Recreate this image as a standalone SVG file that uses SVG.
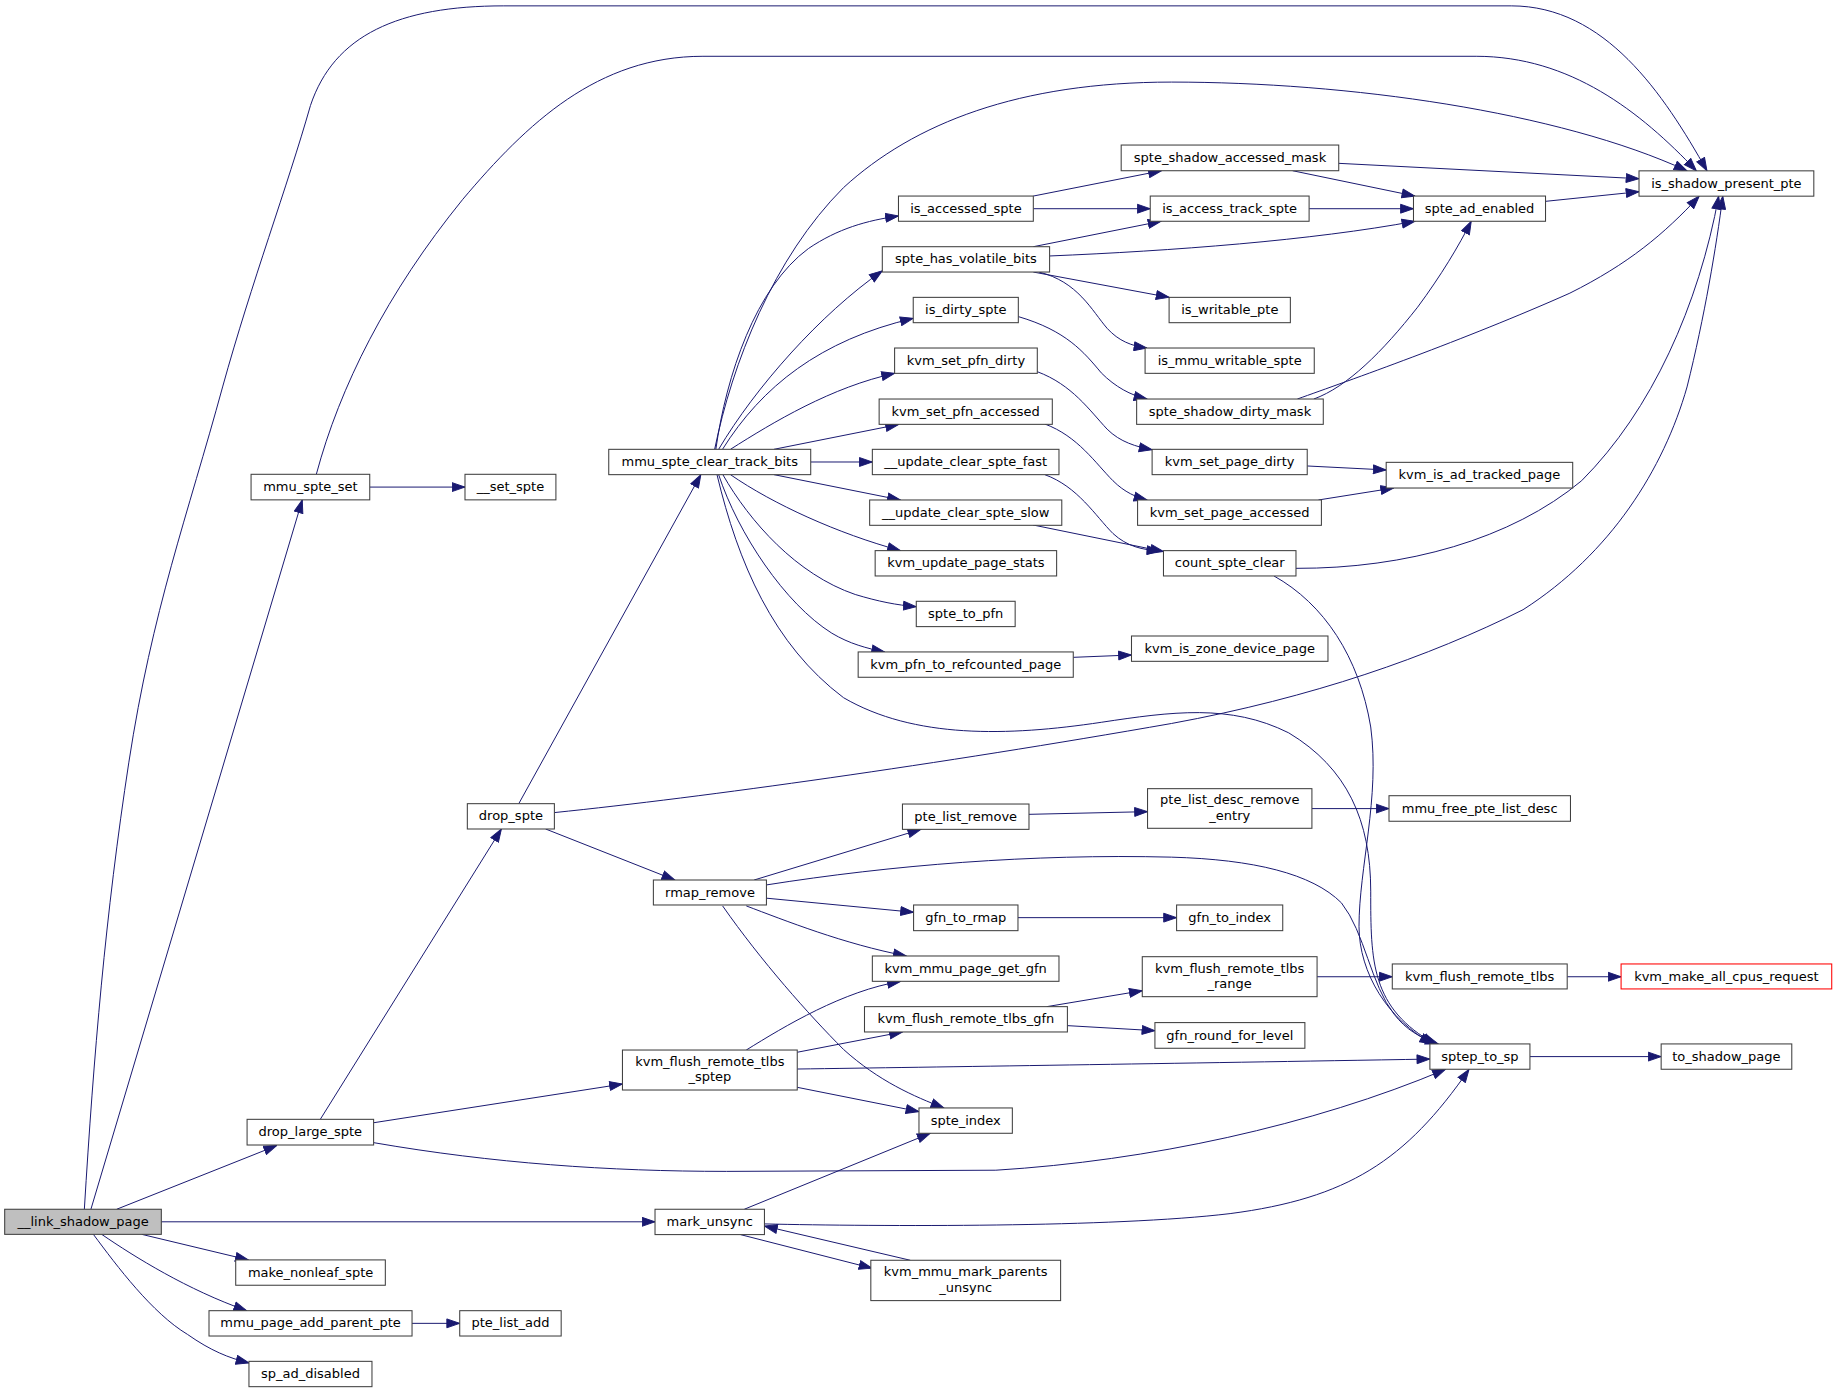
<svg xmlns="http://www.w3.org/2000/svg" width="1837" height="1393" viewBox="0 0 1837 1393">
<style>
.n rect{fill:#ffffff;stroke:#404040;stroke-width:0.9}
.root rect{fill:#bfbfbf;stroke:#404040}
.red rect{stroke:#ff0000}
.n text{font-family:"DejaVu Sans","Liberation Sans",sans-serif;font-size:11.1px;text-anchor:middle;fill:#000000}
.e path{fill:none;stroke:#191970;stroke-width:0.85;marker-end:url(#ah)}
</style>
<defs>
<marker id="ah" markerUnits="userSpaceOnUse" markerWidth="12" markerHeight="9" viewBox="0 0 12 9" refX="11.5" refY="4.5" orient="auto">
<path d="M0.5,0.7 L11.5,4.5 L0.5,8.3 z" fill="#191970" stroke="#191970" stroke-width="0.8"/>
</marker>
</defs>
<rect x="0" y="0" width="1837" height="1393" fill="#ffffff"/>
<g transform="scale(1.17156 1.17256)">
<g id="edges" class="e">
<path d="M72,1031.3 C80,900 90,780 110,650 C130,520 160,440 190,330 C215,240 245,160 265,90 C285,30 340,5 430,5 L1290,5 C1370,5 1420,80 1457,145.7"/>
<path d="M77.6,1031.3 L258,426.4"/>
<path d="M99.6,1031.3 L236.2,977"/>
<path d="M137.7,1042 L559.1,1042"/>
<path d="M121,1052.7 L212,1074.5"/>
<path d="M86.8,1052.7 C115,1072 160,1100 210.6,1117.8"/>
<path d="M79.7,1052.7 C100,1080 130,1120 160,1138 C180,1152 195,1158 212.5,1162.4"/>
<path d="M270,404.5 C290,330 330,250 395,170 C450,105 510,48 600,48 L1260,48 C1340,48 1400,95 1448,145.7"/>
<path d="M315.6,415.4 L396.9,415.4"/>
<path d="M610,383.2 C625,310 660,220 720,160 C780,105 870,70 1000,70 C1150,70 1330,95 1440,145.7"/>
<path d="M273.4,954.6 L428,707"/>
<path d="M319,957.5 L531.3,924.5"/>
<path d="M319,974.5 C420,992 520,999 620,999 L850,998 C980,990 1120,960 1233.8,912"/>
<path d="M442.8,685.4 L598.2,404.8"/>
<path d="M473.2,693 C600,680 800,652 1000,617 C1120,595 1220,560 1300,520 C1375,472 1420,400 1440,330 C1455,270 1465,210 1470.5,167.3"/>
<path d="M465.7,707 L576,750.5"/>
<path d="M643.7,750.5 L786,707.3"/>
<path d="M654.2,754.7 C760,738 880,728 1000,731 C1070,733 1120,745 1145,770 C1165,795 1170,840 1190,865 C1200,878 1212,885 1227.7,890.3"/>
<path d="M612,404.8 C630,480 660,550 720,595 C780,630 860,628 940,616 C1000,607 1050,600 1100,625 C1150,655 1170,700 1170,760 C1170,820 1170,860 1225,890.3"/>
<path d="M1087.4,491.2 C1130,515 1160,560 1170,620 C1178,680 1160,740 1160,790 C1160,830 1185,870 1223,890.3"/>
<path d="M654.2,766 L779.8,778"/>
<path d="M637,772.6 C670,785 720,805 773.6,815.3"/>
<path d="M616.8,772.6 C650,820 690,865 720,895 C750,922 780,935 805.7,944.9"/>
<path d="M637,895.5 C670,875 720,845 768.6,837"/>
<path d="M680.5,897.4 L770.3,880.1"/>
<path d="M680.5,911.7 C800,910 1000,907 1220.5,903.2"/>
<path d="M680.5,927.3 L784.4,948"/>
<path d="M635.3,1031.3 L794,966.5"/>
<path d="M652.5,1043.8 C750,1046 950,1047 1050,1035 C1150,1022 1200,990 1253.9,912"/>
<path d="M632,1052.9 L744.3,1081.6"/>
<path d="M777,1074.8 L652.5,1045.6"/>
<path d="M611,383.2 C620,320 645,245 690,212 C715,195 740,188 766.9,184.2"/>
<path d="M613.4,383.2 C645,330 700,268 753.1,231"/>
<path d="M616.7,383.2 C650,330 700,290 779.5,271.5"/>
<path d="M623.5,383.2 C660,360 710,330 763.6,318.4"/>
<path d="M660.6,383.2 L767,362"/>
<path d="M692,394 L744.6,394"/>
<path d="M660.6,404.8 L768.6,426.4"/>
<path d="M623.5,404.8 C660,430 715,455 768.6,469.6"/>
<path d="M617,404.8 C640,445 680,490 730,507 C750,513 765,516 782.1,517.4"/>
<path d="M613.4,404.8 C630,455 670,515 710,540 C725,549 740,553 755.1,556"/>
<path d="M882,167.2 L991.4,145.6"/>
<path d="M882,178 L981.8,178"/>
<path d="M882,210.4 L991,188.7"/>
<path d="M895.9,218.3 C1000,214 1120,205 1207.7,188.7"/>
<path d="M882,232 L997.9,253.6"/>
<path d="M886.7,232 C920,240 932,265 945,280 C955,291 966,295 979,296.8"/>
<path d="M869.2,270 C910,282 925,300 940,318 C952,330 965,337 979,340.3"/>
<path d="M885.4,317 C915,328 930,350 945,366 C956,377 970,381 983.4,383.6"/>
<path d="M891.8,361.6 C920,372 935,395 950,410 C960,420 970,424 979,426.4"/>
<path d="M891.8,404.8 C920,415 935,440 950,455 C962,466 975,469 990,469.8"/>
<path d="M881.7,447.7 L993.1,470.4"/>
<path d="M916.1,560.6 L965.8,558.6"/>
<path d="M1142.7,139.3 L1399,152.4"/>
<path d="M1103.3,145.6 L1207.7,167.2"/>
<path d="M1117.4,178 L1206.5,178"/>
<path d="M1319.2,171.7 L1399,163.5"/>
<path d="M1121.4,340.3 C1150,330 1180,300 1210,262 C1230,235 1245,210 1255.8,188.7"/>
<path d="M1107.4,340.3 C1150,325 1250,290 1340,250 C1390,225 1420,200 1450.4,167.3"/>
<path d="M1106.2,484.7 C1200,485 1290,460 1350,410 C1410,350 1450,260 1467,167.3"/>
<path d="M1115.8,397.4 L1183.2,400.8"/>
<path d="M1125.4,426.4 L1189.6,416.2"/>
<path d="M878.3,694.5 L979.5,692.2"/>
<path d="M1119.8,689.6 L1185.6,689.6"/>
<path d="M868.9,782.6 L1004.3,782.6"/>
<path d="M893.5,858.5 L975,844.9"/>
<path d="M911.1,874.7 L985.8,879"/>
<path d="M1124.2,833 L1188.4,833"/>
<path d="M1337.7,833 L1383.7,833"/>
<path d="M1305.9,901.1 L1417.9,901.1"/>
<path d="M351.7,1128.6 L392.4,1128.6"/>
</g>
<g id="node_link_shadow_page" class="n root"><rect x="4" y="1031.3" width="133.7" height="21.4"/><text x="70.9" y="1045.5">__link_shadow_page</text></g>
<g id="node_mmu_spte_set" class="n"><rect x="214.3" y="404.5" width="101.3" height="21.8"/><text x="265" y="418.9">mmu_spte_set</text></g>
<g id="node_set_spte" class="n"><rect x="396.9" y="404.5" width="77.6" height="21.8"/><text x="435.7" y="418.9">__set_spte</text></g>
<g id="node_drop_spte" class="n"><rect x="398.9" y="685.4" width="74.3" height="21.6"/><text x="436.1" y="699.7">drop_spte</text></g>
<g id="node_drop_large_spte" class="n"><rect x="210.9" y="954.6" width="108" height="21.9"/><text x="264.9" y="969.1">drop_large_spte</text></g>
<g id="node_make_nonleaf_spte" class="n"><rect x="201.2" y="1074.5" width="127.7" height="21.6"/><text x="265.1" y="1088.8">make_nonleaf_spte</text></g>
<g id="node_mmu_page_add_parent_pte" class="n"><rect x="178.4" y="1117.8" width="173.3" height="21.6"/><text x="265.1" y="1132.1">mmu_page_add_parent_pte</text></g>
<g id="node_pte_list_add" class="n"><rect x="392.4" y="1117.8" width="86.6" height="21.6"/><text x="435.7" y="1132.1">pte_list_add</text></g>
<g id="node_sp_ad_disabled" class="n"><rect x="212.5" y="1161" width="105" height="21.6"/><text x="265" y="1175.3">sp_ad_disabled</text></g>
<g id="node_mmu_spte_clear_track_bits" class="n"><rect x="519.6" y="383.2" width="172.4" height="21.6"/><text x="605.8" y="397.5">mmu_spte_clear_track_bits</text></g>
<g id="node_rmap_remove" class="n"><rect x="557.7" y="750.5" width="96.5" height="21.3"/><text x="606" y="764.7">rmap_remove</text></g>
<g id="node_kvm_flush_remote_tlbs_sptep" class="n"><rect x="531.3" y="895.5" width="149.2" height="34.1"/><text x="605.9" y="909">kvm_flush_remote_tlbs</text><text x="605.9" y="922">_sptep</text></g>
<g id="node_mark_unsync" class="n"><rect x="559.1" y="1031.3" width="93.4" height="21.6"/><text x="605.8" y="1045.6">mark_unsync</text></g>
<g id="node_is_accessed_spte" class="n"><rect x="766.9" y="167.2" width="115.1" height="21.5"/><text x="824.5" y="181.5">is_accessed_spte</text></g>
<g id="node_spte_has_volatile_bits" class="n"><rect x="753.1" y="210.4" width="142.8" height="21.6"/><text x="824.5" y="224.7">spte_has_volatile_bits</text></g>
<g id="node_is_dirty_spte" class="n"><rect x="779.5" y="253.6" width="89.7" height="21.6"/><text x="824.4" y="267.9">is_dirty_spte</text></g>
<g id="node_kvm_set_pfn_dirty" class="n"><rect x="763.6" y="296.8" width="121.8" height="21.6"/><text x="824.5" y="311.1">kvm_set_pfn_dirty</text></g>
<g id="node_kvm_set_pfn_accessed" class="n"><rect x="750.4" y="340.3" width="147.8" height="21.6"/><text x="824.3" y="354.6">kvm_set_pfn_accessed</text></g>
<g id="node_update_clear_spte_fast" class="n"><rect x="744.6" y="383.2" width="159.3" height="21.6"/><text x="824.3" y="397.5">__update_clear_spte_fast</text></g>
<g id="node_update_clear_spte_slow" class="n"><rect x="742.3" y="426.4" width="164" height="21.6"/><text x="824.3" y="440.7">__update_clear_spte_slow</text></g>
<g id="node_kvm_update_page_stats" class="n"><rect x="747" y="469.6" width="154.9" height="21.6"/><text x="824.5" y="483.9">kvm_update_page_stats</text></g>
<g id="node_spte_to_pfn" class="n"><rect x="782.1" y="512.8" width="84.4" height="21.6"/><text x="824.3" y="527.1">spte_to_pfn</text></g>
<g id="node_kvm_pfn_to_refcounted_page" class="n"><rect x="732.5" y="556" width="183.6" height="21.6"/><text x="824.3" y="570.3">kvm_pfn_to_refcounted_page</text></g>
<g id="node_pte_list_remove" class="n"><rect x="770.3" y="685.7" width="108" height="21.6"/><text x="824.3" y="700">pte_list_remove</text></g>
<g id="node_gfn_to_rmap" class="n"><rect x="779.8" y="771.8" width="89.1" height="21.9"/><text x="824.4" y="786.3">gfn_to_rmap</text></g>
<g id="node_kvm_mmu_page_get_gfn" class="n"><rect x="744.6" y="815.3" width="159.3" height="21.6"/><text x="824.3" y="829.6">kvm_mmu_page_get_gfn</text></g>
<g id="node_kvm_flush_remote_tlbs_gfn" class="n"><rect x="737.9" y="858.5" width="173.2" height="21.6"/><text x="824.5" y="872.8">kvm_flush_remote_tlbs_gfn</text></g>
<g id="node_spte_index" class="n"><rect x="784.4" y="944.9" width="79.7" height="21.6"/><text x="824.3" y="959.2">spte_index</text></g>
<g id="node_kvm_mmu_mark_parents_unsync" class="n"><rect x="743.3" y="1074.8" width="162" height="34.4"/><text x="824.3" y="1088.5">kvm_mmu_mark_parents</text><text x="824.3" y="1101.5">_unsync</text></g>
<g id="node_spte_shadow_accessed_mask" class="n"><rect x="957" y="123.7" width="185.7" height="21.9"/><text x="1049.9" y="138.2">spte_shadow_accessed_mask</text></g>
<g id="node_is_access_track_spte" class="n"><rect x="981.8" y="167.2" width="135.6" height="21.5"/><text x="1049.6" y="181.5">is_access_track_spte</text></g>
<g id="node_is_writable_pte" class="n"><rect x="997.9" y="253.6" width="103.5" height="21.6"/><text x="1049.7" y="267.9">is_writable_pte</text></g>
<g id="node_is_mmu_writable_spte" class="n"><rect x="977.4" y="296.8" width="144.4" height="21.6"/><text x="1049.6" y="311.1">is_mmu_writable_spte</text></g>
<g id="node_spte_shadow_dirty_mask" class="n"><rect x="970.2" y="340.3" width="159.3" height="21.6"/><text x="1049.9" y="354.6">spte_shadow_dirty_mask</text></g>
<g id="node_kvm_set_page_dirty" class="n"><rect x="983.4" y="383.2" width="132.4" height="21.6"/><text x="1049.6" y="397.5">kvm_set_page_dirty</text></g>
<g id="node_kvm_set_page_accessed" class="n"><rect x="971" y="426.4" width="156.9" height="21.6"/><text x="1049.5" y="440.7">kvm_set_page_accessed</text></g>
<g id="node_count_spte_clear" class="n"><rect x="993.1" y="469.6" width="113.1" height="21.6"/><text x="1049.7" y="483.9">count_spte_clear</text></g>
<g id="node_kvm_is_zone_device_page" class="n"><rect x="965.8" y="542.4" width="167.7" height="21.6"/><text x="1049.7" y="556.7">kvm_is_zone_device_page</text></g>
<g id="node_pte_list_desc_remove_entry" class="n"><rect x="979.5" y="672.6" width="140.3" height="33.8"/><text x="1049.7" y="686">pte_list_desc_remove</text><text x="1049.7" y="699">_entry</text></g>
<g id="node_gfn_to_index" class="n"><rect x="1004.3" y="771.8" width="90.6" height="21.9"/><text x="1049.6" y="786.3">gfn_to_index</text></g>
<g id="node_kvm_flush_remote_tlbs_range" class="n"><rect x="975" y="815.9" width="149.2" height="34.1"/><text x="1049.6" y="829.5">kvm_flush_remote_tlbs</text><text x="1049.6" y="842.5">_range</text></g>
<g id="node_gfn_round_for_level" class="n"><rect x="985.8" y="872.1" width="128" height="21.9"/><text x="1049.8" y="886.6">gfn_round_for_level</text></g>
<g id="node_spte_ad_enabled" class="n"><rect x="1206.5" y="167.2" width="112.7" height="21.5"/><text x="1262.9" y="181.5">spte_ad_enabled</text></g>
<g id="node_kvm_is_ad_tracked_page" class="n"><rect x="1183.2" y="394.3" width="159.2" height="21.9"/><text x="1262.8" y="408.8">kvm_is_ad_tracked_page</text></g>
<g id="node_mmu_free_pte_list_desc" class="n"><rect x="1185.6" y="678.6" width="154.9" height="21.8"/><text x="1263" y="693">mmu_free_pte_list_desc</text></g>
<g id="node_kvm_flush_remote_tlbs" class="n"><rect x="1188.4" y="822.1" width="149.3" height="21.3"/><text x="1263" y="836.3">kvm_flush_remote_tlbs</text></g>
<g id="node_sptep_to_sp" class="n"><rect x="1220.5" y="890.3" width="85.4" height="21.6"/><text x="1263.2" y="904.6">sptep_to_sp</text></g>
<g id="node_is_shadow_present_pte" class="n"><rect x="1399" y="145.7" width="149.2" height="21.6"/><text x="1473.6" y="160">is_shadow_present_pte</text></g>
<g id="node_kvm_make_all_cpus_request" class="n red"><rect x="1383.7" y="822.1" width="179.8" height="21.3"/><text x="1473.6" y="836.3">kvm_make_all_cpus_request</text></g>
<g id="node_to_shadow_page" class="n"><rect x="1417.9" y="890.3" width="111.5" height="21.6"/><text x="1473.6" y="904.6">to_shadow_page</text></g>
</g>
</svg>
